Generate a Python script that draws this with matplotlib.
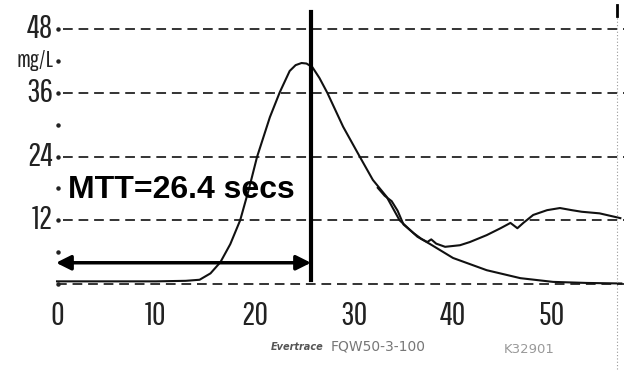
import numpy as np
import matplotlib.pyplot as plt
from matplotlib import font_manager

# first-pass dilution curve (with extrapolated decay), time in s, conc in mg/L
t_main = [0, 5, 10, 13, 14.4, 15.5, 16.5, 17.5, 18.5, 19.4, 20.2, 21.5, 22.5, 23.5,
          24.1, 24.7, 25.2, 25.8, 26.5, 27.3, 28.9, 30.6, 31.9, 33.3, 34.6, 36.4,
          37.7, 40.0, 43.4, 46.8, 50.1, 53.5, 57]
c_main = [0.5, 0.5, 0.5, 0.6, 0.8, 2.0, 4.1, 7.5, 12.0, 18.0, 23.9, 31.4, 36.1, 40.1,
          41.2, 41.6, 41.5, 40.8, 38.8, 36.0, 29.6, 23.9, 19.6, 16.4, 12.0, 8.9,
          7.5, 4.9, 2.6, 1.1, 0.4, 0.2, 0.1]

# raw trace with recirculation
t_recirc = [32.4, 33.1, 33.8, 34.4, 35.0, 36.0, 36.8, 37.4, 37.8, 38.3, 39.2, 40.7,
            41.7, 43.4, 44.8, 45.8, 46.5, 47.1, 48.1, 49.5, 50.8, 52.0, 53.0, 54.8, 56.9]
c_recirc = [18.1, 16.6, 15.6, 13.8, 11.2, 9.6, 8.5, 7.9, 8.4, 7.6, 7.0, 7.3,
            7.9, 9.2, 10.5, 11.5, 10.5, 11.5, 13.0, 13.9, 14.3, 13.9, 13.6, 13.3, 12.4]

mtt_line = 25.7
mtt_label = 'MTT=26.4 secs'
grid_vals = [0, 12, 24, 36, 48]
dot_vals = [0, 6, 12, 18, 24, 30, 36, 42, 48]
ylabels = {48: '48', 42: 'mg/L', 36: '36', 24: '24', 12: '12'}
xticks = [0, 10, 20, 30, 40, 50]

# pick a condensed face for the recorder's tick labels
installed = set(f.name for f in font_manager.fontManager.ttflist)
narrow = [f for f in ['Pathway Gothic One', 'Antonio', 'Liberation Sans Narrow',
                      'PT Sans Narrow', 'Archivo Narrow', 'Roboto Condensed',
                      'Oswald'] if f in installed][:1] + ['DejaVu Sans']

fig = plt.figure(figsize=(6.24, 3.74), dpi=100)
ax = fig.add_axes([0, 0, 1, 1])
ax.set_xlim(-5.76, 57.27)
ax.set_ylim(-16.94, 53.46)
ax.axis('off')

for g in grid_vals:
    x0 = 0.0 if g == 0 else 0.6
    ax.plot([x0, 58], [g, g], color='#333333', lw=1.4, dashes=(5, 3))
ax.plot([0.1] * len(dot_vals), dot_vals, 'o', color='#222222', ms=2.2)

for v, s in ylabels.items():
    fs = 17 if s == 'mg/L' else 24
    ax.text(-0.4, v, s, ha='right', va='center', fontsize=fs, family=narrow, color='#222222')
for x in xticks:
    ax.text(x, -6.0, str(x), ha='center', va='center', fontsize=24, family=narrow, color='#222222')

ax.plot(t_main, c_main, color='#111111', lw=1.5)
ax.plot(t_recirc, c_recirc, color='#111111', lw=1.5)

ax.plot([mtt_line, mtt_line], [0.7, 51.2], color='black', lw=3)
ax.annotate('', xy=(-0.1, 4.0), xytext=(mtt_line - 0.05, 4.0),
            arrowprops=dict(arrowstyle='<|-|>', color='black', lw=2.5,
                            mutation_scale=22, shrinkA=0, shrinkB=0))
ax.text(1.1, 16.2, mtt_label, fontsize=23, fontweight='bold',
        family=['Liberation Sans', 'DejaVu Sans'], ha='left', va='baseline')

# scanner marks on the right edge and footer text
ax.plot([56.6, 56.6], [-16, 52], color='#999999', lw=0.8, ls=(0, (1, 2)))
ax.plot([56.6, 56.6], [50.5, 52.6], color='black', lw=2)
ax.text(21.6, -11.8, 'Evertrace', fontsize=7, style='italic', fontweight='bold',
        color='#555555', ha='left', va='center')
ax.text(27.6, -11.7, 'FQW50-3-100', fontsize=10, color='#777777', ha='left', va='center')
ax.text(45.1, -12.3, 'K32901', fontsize=9.5, color='#999999', ha='left', va='center')

fig.savefig('out.png', dpi=100)
